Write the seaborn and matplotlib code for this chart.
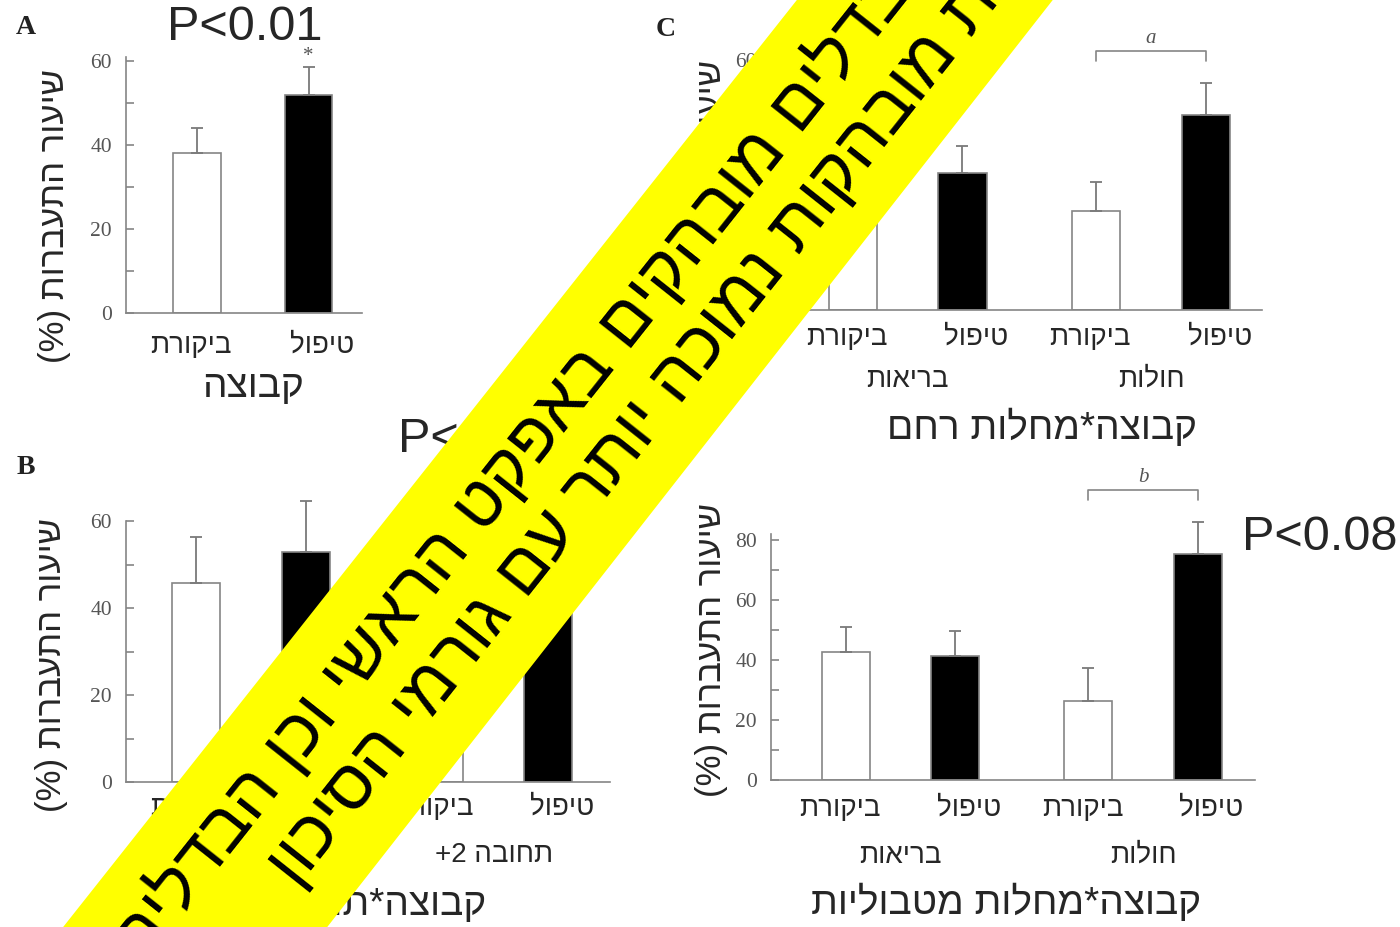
import numpy as np
import pandas as pd
import matplotlib
matplotlib.use("Agg")
import matplotlib.pyplot as plt
from matplotlib.patches import Polygon
import seaborn as sns

# ---- data ----
treat_levels = ["ביקורת", "טיפול"]

a_means = [38, 52]
a_err = [6, 6.6]

b_groups = ["תחובה 1", "תחובה 2+"]
b_means = [45.7, 52.9, 30, 50]
b_err = [10.6, 11.7, 8, 9]

c_groups = ["בריאות", "חולות"]
c_means = [38, 32.9, 23.7, 46.8]
c_err = [6.5, 6.5, 7.0, 7.6]

d_groups = ["בריאות", "חולות"]
d_means = [42.7, 41.3, 26.3, 75.3]
d_err = [8.3, 8.4, 11.0, 10.7]

ylabel = "שיעור התעברות (%)"
banner_lines = ["הבדלים מובהקים באפקט הראשי וכן הבדלים",
                "ברמת מובהקות נמוכה יותר עם גורמי הסיכון"]

W, H = 1400, 927
HEB = ["Liberation Sans", "DejaVu Sans"]
SERIF = ["Liberation Serif", "DejaVu Serif"]
GREY = "#858585"
pal = {"ביקורת": "white", "טיפול": "black"}
label_shift = {"ביקורת": -6, "טיפול": 14}   # labels sit a bit off the bar centres

sns.set_style("white")
plt.rcParams["font.family"] = HEB


def rtl(s):
    # matplotlib has no bidi, so flip the string into visual order
    mirror = {"(": ")", ")": "("}
    return "".join(mirror.get(c, c) for c in reversed(s))


fig = plt.figure(figsize=(W / 100, H / 100), dpi=100)


def make_ax(left, right, c0, sx, y0, sy, ytop):
    ax = fig.add_axes([left / W, 1 - y0 / H, (right - left) / W, ytop * sy / H])
    ax._lim = ((left - c0) / sx, (right - c0) / sx, ytop)
    return ax


def finish(ax, spine_top, ticks, minor):
    x0, x1, ytop = ax._lim
    ax.set_xlim(x0, x1)
    ax.set_ylim(0, ytop)
    ax.set_xlabel("")
    ax.set_ylabel("")
    ax.set_xticks([])
    ax.set_yticks(ticks)
    ax.set_yticks(minor, minor=True)
    ax.set_yticklabels([str(t) for t in ticks], family=SERIF, fontsize=15.5, color="#555555")
    ax.tick_params(axis="y", which="both", direction="in", length=6, width=1.2,
                   color=GREY, pad=10, left=True)
    for s in ["top", "right"]:
        ax.spines[s].set_visible(False)
    ax.spines["left"].set_bounds(0, spine_top)
    for s in ["left", "bottom"]:
        ax.spines[s].set_color(GREY)
        ax.spines[s].set_linewidth(1.2)
    ax.set_facecolor("none")


def bars(ax, df, x, width, gap, dodge, errs):
    sns.barplot(data=df, x=x, y="value", hue="treat", hue_order=treat_levels,
                palette=pal, dodge=dodge, width=width, gap=gap, errorbar=None,
                edgecolor=GREY, linewidth=1.2, legend=False, ax=ax)
    rects = sorted(ax.patches, key=lambda p: p.get_x())
    xs = [r.get_x() + r.get_width() / 2 for r in rects]
    tops = np.array([r.get_height() for r in rects])
    ax.errorbar(xs, tops, yerr=[np.zeros(len(errs)), errs], fmt="none",
                ecolor="#7a7a7a", elinewidth=1.3, capsize=4.5, capthick=1.3,
                zorder=1, clip_on=False)
    return xs, tops + np.array(errs)


def under(ax, x, text, off_px, size, dx_px=0):
    ax.annotate(text, xy=(x, 0), xycoords=("data", "axes fraction"),
                xytext=(dx_px * 0.72, -off_px * 0.72), textcoords="offset points",
                ha="center", va="center", fontsize=size, family=HEB,
                annotation_clip=False)


def bracket(ax, x0, x1, ytop, sy, letter):
    yb = ytop + 32 / sy
    ax.plot([x0, x0, x1, x1], [yb - 10 / sy, yb, yb, yb - 10 / sy],
            color=GREY, lw=1.2, clip_on=False)
    ax.text((x0 + x1) / 2, yb + 13 / sy, letter, ha="center", va="center",
            family=SERIF, style="italic", fontsize=15, color="#555555", clip_on=False)


# ---- panel A ----
axA = make_ax(126, 362, 197, 111.5, 313, 4.2, 66)
dfA = pd.DataFrame({"treat": treat_levels, "value": a_means})
xs, etop = bars(axA, dfA, "treat", 0.43, 0, False, a_err)
finish(axA, 61, [0, 20, 40, 60], [10, 30, 50])
for x, t in zip(xs, treat_levels):
    under(axA, x, rtl(t), 33, 20, label_shift[t])
under(axA, 0.5, rtl("קבוצה"), 74, 28)
axA.text(xs[1], etop[1] + 10 / 4.2, "*", ha="center", va="center",
         family=SERIF, fontsize=15, color="#555555", clip_on=False)


def grouped(groups, means):
    return pd.DataFrame({"group": np.repeat(groups, 2),
                         "treat": treat_levels * len(groups), "value": means})


def panel(ax, groups, means, errs, spine_top, ticks, minor, offs, xlabel, xl_dx):
    xs, etop = bars(ax, grouped(groups, means), "group", 0.9, 0.56, True, errs)
    finish(ax, spine_top, ticks, minor)
    for x, t in zip(xs, treat_levels * len(groups)):
        under(ax, x, rtl(t), offs[0], 20, label_shift[t])
    for i, g in enumerate(groups):
        under(ax, i, rtl(g), offs[1], 20)
    under(ax, 0.5, rtl(xlabel), offs[2], 28, xl_dx)
    return xs, etop


# ---- panel B ----
axB = make_ax(126, 610, 251, 242.75, 782, 4.35, 68)
panel(axB, b_groups, b_means, b_err, 60, [0, 20, 40, 60], [10, 30, 50],
      (26, 73, 123), "קבוצה*תחובה", 0)

# ---- panel C ----
axC = make_ax(771, 1262, 907.75, 243.25, 310, 4.17, 62)
xs, etop = panel(axC, c_groups, c_means, c_err, 60, [0, 20, 40, 60], [10, 30, 50],
                 (28, 70, 118), "קבוצה*מחלות רחם", 13)
bracket(axC, xs[2], xs[3], etop.max(), 4.17, "a")

# ---- panel D ----
axD = make_ax(771, 1255, 900.5, 242.5, 780, 3.0, 84)
xs, etop = panel(axD, d_groups, d_means, d_err, 82, [0, 20, 40, 60, 80], [10, 30, 50, 70],
                 (29, 76, 123), "קבוצה*מחלות מטבוליות", -16)
bracket(axD, xs[2], xs[3], etop.max(), 3.0, "b")


# ---- figure texts ----
def ftext(x, y, s, **kw):
    fig.text(x / W, 1 - y / H, s, **kw)


for (x, y) in [(55, 216), (52, 665), (712, 207), (712, 650)]:
    ftext(x, y, rtl(ylabel), rotation=90, ha="center", va="center", fontsize=25, family=HEB)

for (x, y, s) in [(26, 28, "A"), (26, 467, "B"), (666, 30, "C")]:
    ftext(x, y, s, ha="center", va="center", fontsize=20, weight="bold",
          family=SERIF, color="#222222")

ftext(245, 27, "P<0.01", ha="center", va="center", fontsize=35, family=HEB)
ftext(1320, 537, "P<0.08", ha="center", va="center", fontsize=35, family=HEB)
ftext(398, 440, "P<0.05", ha="left", va="center", fontsize=35, family=HEB)

# ---- yellow diagonal banner ----
band = [(876, -100), (1131, -100), (249, 1027), (-16, 1027)]
fig.patches.append(Polygon([(x / W, 1 - y / H) for x, y in band], closed=True,
                           transform=fig.transFigure, facecolor="#FFFF00",
                           edgecolor="none", zorder=10))
for (x, y), line in zip([(525, 450), (674, 384)], banner_lines):
    ftext(x, y, rtl(line), rotation=51.6, rotation_mode="anchor", ha="center",
          va="center", fontsize=50, family=HEB, color="black", zorder=11)

fig.savefig("out.png", dpi=100, facecolor="white")
